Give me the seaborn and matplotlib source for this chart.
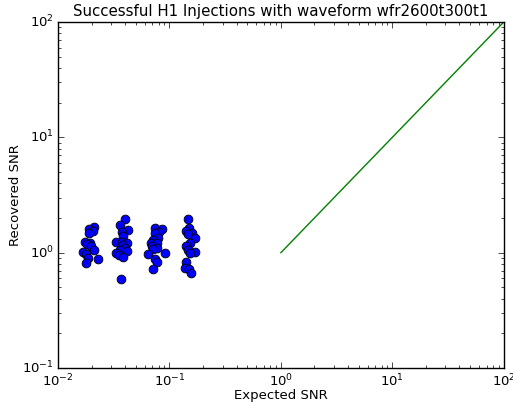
"""Recovered vs expected SNR for H1 injections."""

import matplotlib

matplotlib.use("Agg")
import matplotlib.pyplot as plt
import pandas as pd
import seaborn as sns

# Injection clusters
expected_snr = [
    0.0212, 0.0191, 0.0207, 0.0190, 0.0175, 0.0194, 0.0183, 0.0196, 0.0212,
    0.0169, 0.0178, 0.0185, 0.0227, 0.0178,
    0.0399, 0.0360, 0.0422, 0.0373, 0.0385, 0.0329, 0.0373, 0.0418, 0.0385,
    0.0399, 0.0360, 0.0418, 0.0331, 0.0355, 0.0380, 0.0365,
    0.0741, 0.0851, 0.0805, 0.0741, 0.0794, 0.0716, 0.0678, 0.0768, 0.0693,
    0.0768, 0.0716, 0.0646, 0.0911, 0.0741, 0.0768, 0.0707,
    0.1474, 0.1505, 0.1406, 0.1582, 0.1474, 0.1693, 0.1527, 0.1397, 0.1474,
    0.1693, 0.1527, 0.1397, 0.1377, 0.1505, 0.1549,
]
recovered_snr = [
    1.658, 1.593, 1.548, 1.470, 1.229, 1.219, 1.188, 1.141, 1.053,
    1.012, 0.973, 0.903, 0.875, 0.808,
    1.968, 1.736, 1.579, 1.518, 1.393, 1.243, 1.243, 1.204, 1.164,
    1.090, 1.053, 1.039, 0.986, 0.953, 0.921, 0.587,
    1.625, 1.602, 1.518, 1.470, 1.346, 1.286, 1.219, 1.204, 1.148,
    1.090, 1.068, 0.973, 0.986, 0.875, 0.824, 0.716,
    1.956, 1.625, 1.539, 1.470, 1.450, 1.330, 1.204, 1.148, 1.053,
    1.006, 0.986, 0.834, 0.740, 0.721, 0.669,
]

# reference line recovered == expected
line_snr = [1.0, 100.0]

TITLE = "Successful H1 Injections with waveform wfr2600t300t1"


def main() -> None:
    sns.set_style("ticks")
    plt.style.use("classic")
    plt.rcParams["font.family"] = ["DejaVu Sans"]

    points = pd.DataFrame({"expected": expected_snr, "recovered": recovered_snr})
    diag = pd.DataFrame({"expected": line_snr, "recovered": line_snr})

    fig = plt.figure(figsize=(5.13, 4.04), dpi=100, facecolor="white")
    ax = fig.add_axes([0.113, 0.089, 0.869, 0.8565])

    sns.scatterplot(data=points, x="expected", y="recovered", ax=ax,
                    color="blue", edgecolor="black", linewidth=0.6, s=40,
                    zorder=3)
    sns.lineplot(data=diag, x="expected", y="recovered", ax=ax,
                 color=(0, 0.5, 0), linewidth=1.0)

    ax.set_xscale("log")
    ax.set_yscale("log")
    ax.set_xlim(1e-2, 1e2)
    ax.set_ylim(1e-1, 1e2)
    ax.set_xlabel("Expected SNR", fontsize=9.5, labelpad=0)
    ax.set_ylabel("Recovered SNR", fontsize=9.5, labelpad=0)
    ax.set_title(TITLE, fontsize=10.8, pad=4)
    ax.tick_params(labelsize=9.5, pad=3)

    fig.savefig("out.png", dpi=100, facecolor="white")
    plt.close(fig)


if __name__ == "__main__":
    main()
